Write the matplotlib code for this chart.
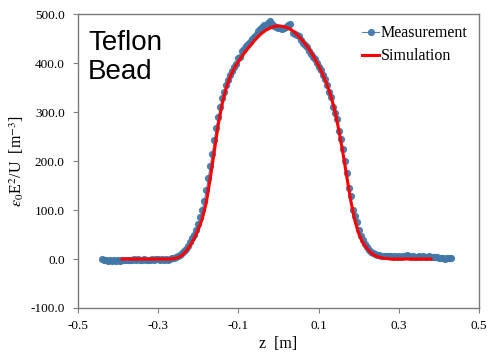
import matplotlib.pyplot as plt
import numpy as np

plt.rcParams['font.family'] = ['Liberation Serif', 'DejaVu Serif']
plt.rcParams['mathtext.fontset'] = 'stix'

# measured points, every 5 mm from -0.440 m to 0.430 m
meas_z = np.arange(-440, 435, 5) / 1000.0
meas_val = [
    0, -2, -3, -4, -3, -4, -3, -4, -3, -5,
    -3, -2, -1, -2, -1, -2, 0, -1, 0, -3,
    -1, 0, -2, -3, -1, 0, -1, 0, 0, -1,
    0, -1, 0, -1, 1, 2, 3, 4, 6, 9,
    12, 16, 21, 27, 34, 42, 50, 60, 72, 85,
    100, 118, 140, 165, 190, 215, 242, 268, 290, 310,
    328, 340, 355, 365, 375, 384, 392, 398, 410, 413,
    425, 428, 435, 440, 443, 450, 453, 458, 465, 470,
    474, 478, 476, 482, 485, 480, 476, 474, 471, 472,
    470, 471, 474, 478, 479, 462, 460, 458, 455, 448,
    442, 437, 432, 425, 418, 412, 408, 400, 393, 385,
    375, 368, 355, 340, 330, 310, 298, 285, 262, 245,
    225, 200, 175, 145, 128, 100, 87, 75, 60, 48,
    38, 30, 24, 19, 15, 12, 10, 9, 8, 7,
    7, 6, 6, 7, 6, 5, 6, 5, 6, 5,
    7, 6, 8, 6, 5, 6, 5, 4, 6, 5,
    6, 5, 4, 6, 5, 5, 4, 5, 3, 2,
    2, 1, 3, 2, 3,
]

# simulation, every 10 mm from -0.39 m to 0.38 m
sim_z = np.arange(-39, 39) / 100.0
sim_val = [
    0, 0, 0, 0, 0, 0, 0, 0, 0, 0,
    0, 0, 0, 1, 3, 8, 16, 28, 42, 60,
    82, 115, 165, 220, 275, 318, 350, 373, 390, 403,
    415, 426, 436, 446, 455, 462, 468, 472, 475, 476,
    475, 473, 469, 463, 455, 446, 436, 424, 410, 395,
    378, 358, 335, 305, 265, 220, 170, 120, 80, 52,
    34, 22, 13, 7, 4, 2, 1, 0, 0, 0,
    0, 0, 0, 0, 0, 0, 0, 0,
]

x_ticks = [-0.5, -0.3, -0.1, 0.1, 0.3, 0.5]
y_ticks = [-100, 0, 100, 200, 300, 400, 500]

fig = plt.figure(figsize=(4.87, 3.53), dpi=100)
ax = fig.add_axes([0.160, 0.1275, 0.8236, 0.8325])

ax.plot(meas_z, meas_val, color='#4178a8', lw=0.8, marker='o', ms=4.2,
        mec='#4178a8', mfc='#4178a8', alpha=0.9, label='Measurement')
ax.plot(sim_z, sim_val, color='#ff0000', lw=2.2, label='Simulation')

ax.set_xlim(-0.5, 0.5)
ax.set_ylim(-100, 500)
ax.set_xticks(x_ticks)
ax.set_yticks(y_ticks)
ax.set_xticklabels([f'{t:.1f}' for t in x_ticks])
ax.set_yticklabels([f'{t:.1f}' for t in y_ticks])
ax.tick_params(direction='out', length=3.5, width=0.8, color='#808080',
               labelsize=9.5)
ax.tick_params(axis='x', pad=5)
ax.tick_params(axis='y', pad=6)
for s in ax.spines.values():
    s.set_color('#7a7a7a')
    s.set_linewidth(1.0)

ax.set_xlabel('z  [m]', fontsize=11.5, labelpad=3)
ax.set_ylabel(r'$\varepsilon_0$E$^2$/U  [m$^{-3}$]', fontsize=11.5, labelpad=3)

ax.text(0.025, 0.945, 'Teflon\nBead', transform=ax.transAxes, ha='left', va='top',
        fontsize=20, family='Liberation Sans', linespacing=1.15)

ax.legend(loc='upper right', frameon=False, fontsize=11.5, handlelength=1.1,
          handletextpad=0.1, labelspacing=0.45, borderaxespad=0.3,
          bbox_to_anchor=(1.0, 1.0))

fig.savefig('out.png', dpi=100)
